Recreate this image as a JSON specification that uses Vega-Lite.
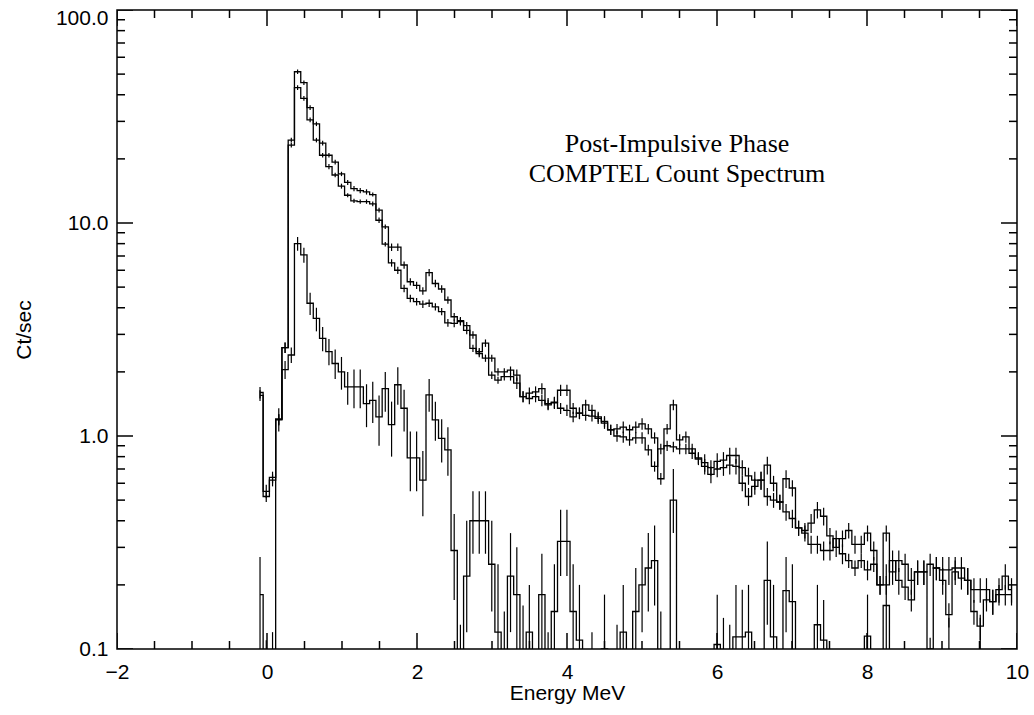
{
"$schema": "https://vega.github.io/schema/vega-lite/v6.json",
"width": 900, "height": 639,
"autosize": {"type": "none"},
"padding": {"left": 117, "top": 10, "right": 17, "bottom": 66},
"background": "white",
"config": {"view": {"stroke": "black", "strokeWidth": 1.5}, "axis": {"domain": false, "ticks": false, "tickSize": 0, "grid": false, "labelFlush": false, "labelOverlap": false}},
"title": {"text": ["Post-Impulsive Phase", "COMPTEL Count Spectrum"], "anchor": "middle", "frame": "group", "orient": "top", "offset": -201, "baseline": "alphabetic", "font": "Liberation Serif", "fontSize": 26, "fontWeight": "normal", "color": "black", "lineHeight": 30, "dx": 110},
"datasets": {
"xt": [
{"v":-2,"m":true},{"v":-1.5,"m":false},{"v":-1,"m":false},{"v":-0.5,"m":false},
{"v":0,"m":true},{"v":0.5,"m":false},{"v":1,"m":false},{"v":1.5,"m":false},
{"v":2,"m":true},{"v":2.5,"m":false},{"v":3,"m":false},{"v":3.5,"m":false},
{"v":4,"m":true},{"v":4.5,"m":false},{"v":5,"m":false},{"v":5.5,"m":false},
{"v":6,"m":true},{"v":6.5,"m":false},{"v":7,"m":false},{"v":7.5,"m":false},
{"v":8,"m":true},{"v":8.5,"m":false},{"v":9,"m":false},{"v":9.5,"m":false},
{"v":10,"m":true}
],
"yt": [
{"v":0.1,"m":true},{"v":0.2,"m":false},{"v":0.3,"m":false},{"v":0.4,"m":false},{"v":0.5,"m":false},{"v":0.6,"m":false},{"v":0.7,"m":false},{"v":0.8,"m":false},{"v":0.9,"m":false},
{"v":1,"m":true},{"v":2,"m":false},{"v":3,"m":false},{"v":4,"m":false},{"v":5,"m":false},{"v":6,"m":false},{"v":7,"m":false},{"v":8,"m":false},{"v":9,"m":false},
{"v":10,"m":true},{"v":20,"m":false},{"v":30,"m":false},{"v":40,"m":false},{"v":50,"m":false},{"v":60,"m":false},{"v":70,"m":false},{"v":80,"m":false},{"v":90,"m":false},
{"v":100,"m":true}
],
"d": [
{"s":"A","x":-0.093,"y":1.6,"lo":1.5,"hi":1.7},
{"s":"A","x":-0.010,"y":0.55,"lo":0.51,"hi":0.59},
{"s":"A","x":0.074,"y":0.62,"lo":0.58,"hi":0.66},
{"s":"A","x":0.157,"y":1.19,"lo":1.12,"hi":1.26},
{"s":"A","x":0.241,"y":2.6,"lo":2.45,"hi":2.75},
{"s":"A","x":0.324,"y":24.5,"lo":23.9,"hi":25.1},
{"s":"A","x":0.408,"y":51.3,"lo":50.0,"hi":52.6},
{"s":"A","x":0.492,"y":45.6,"lo":44.5,"hi":46.7},
{"s":"A","x":0.575,"y":34.8,"lo":33.9,"hi":35.7},
{"s":"A","x":0.659,"y":29.2,"lo":28.5,"hi":29.9},
{"s":"A","x":0.742,"y":23.7,"lo":23.1,"hi":24.3},
{"s":"A","x":0.826,"y":20.8,"lo":20.3,"hi":21.3},
{"s":"A","x":0.909,"y":19.3,"lo":18.8,"hi":19.8},
{"s":"A","x":0.993,"y":17.0,"lo":16.6,"hi":17.4},
{"s":"A","x":1.076,"y":15.5,"lo":15.1,"hi":15.9},
{"s":"A","x":1.160,"y":14.5,"lo":14.1,"hi":14.9},
{"s":"A","x":1.243,"y":14.2,"lo":13.8,"hi":14.6},
{"s":"A","x":1.327,"y":14.0,"lo":13.6,"hi":14.4},
{"s":"A","x":1.410,"y":13.6,"lo":13.3,"hi":13.9},
{"s":"A","x":1.494,"y":11.5,"lo":11.2,"hi":11.8},
{"s":"A","x":1.577,"y":9.6,"lo":9.36,"hi":9.84},
{"s":"A","x":1.661,"y":7.7,"lo":7.39,"hi":8.01},
{"s":"A","x":1.744,"y":7.7,"lo":7.39,"hi":8.01},
{"s":"A","x":1.828,"y":6.35,"lo":6.1,"hi":6.6},
{"s":"A","x":1.911,"y":5.3,"lo":5.09,"hi":5.51},
{"s":"A","x":1.995,"y":5.1,"lo":4.9,"hi":5.3},
{"s":"A","x":2.078,"y":4.8,"lo":4.61,"hi":4.99},
{"s":"A","x":2.162,"y":5.85,"lo":5.62,"hi":6.08},
{"s":"A","x":2.245,"y":5.2,"lo":4.99,"hi":5.41},
{"s":"A","x":2.329,"y":4.9,"lo":4.7,"hi":5.1},
{"s":"A","x":2.412,"y":4.35,"lo":4.18,"hi":4.52},
{"s":"A","x":2.496,"y":3.63,"lo":3.48,"hi":3.78},
{"s":"A","x":2.579,"y":3.48,"lo":3.34,"hi":3.62},
{"s":"A","x":2.663,"y":3.3,"lo":3.17,"hi":3.43},
{"s":"A","x":2.746,"y":2.98,"lo":2.86,"hi":3.1},
{"s":"A","x":2.830,"y":2.49,"lo":2.39,"hi":2.59},
{"s":"A","x":2.913,"y":2.73,"lo":2.62,"hi":2.84},
{"s":"A","x":2.997,"y":2.32,"lo":2.23,"hi":2.41},
{"s":"A","x":3.080,"y":2.0,"lo":1.92,"hi":2.08},
{"s":"A","x":3.164,"y":2.0,"lo":1.92,"hi":2.08},
{"s":"A","x":3.247,"y":2.04,"lo":1.96,"hi":2.12},
{"s":"A","x":3.331,"y":1.93,"lo":1.81,"hi":2.05},
{"s":"A","x":3.414,"y":1.53,"lo":1.44,"hi":1.62},
{"s":"A","x":3.498,"y":1.59,"lo":1.49,"hi":1.69},
{"s":"A","x":3.581,"y":1.61,"lo":1.51,"hi":1.71},
{"s":"A","x":3.665,"y":1.67,"lo":1.57,"hi":1.77},
{"s":"A","x":3.748,"y":1.42,"lo":1.33,"hi":1.51},
{"s":"A","x":3.832,"y":1.44,"lo":1.35,"hi":1.53},
{"s":"A","x":3.915,"y":1.64,"lo":1.54,"hi":1.74},
{"s":"A","x":3.999,"y":1.64,"lo":1.54,"hi":1.74},
{"s":"A","x":4.082,"y":1.35,"lo":1.27,"hi":1.43},
{"s":"A","x":4.166,"y":1.28,"lo":1.2,"hi":1.36},
{"s":"A","x":4.249,"y":1.40,"lo":1.32,"hi":1.48},
{"s":"A","x":4.333,"y":1.32,"lo":1.24,"hi":1.4},
{"s":"A","x":4.416,"y":1.23,"lo":1.16,"hi":1.3},
{"s":"A","x":4.500,"y":1.17,"lo":1.1,"hi":1.24},
{"s":"A","x":4.583,"y":1.07,"lo":1.01,"hi":1.13},
{"s":"A","x":4.667,"y":1.08,"lo":1.02,"hi":1.14},
{"s":"A","x":4.750,"y":1.10,"lo":1.03,"hi":1.17},
{"s":"A","x":4.834,"y":1.07,"lo":1.01,"hi":1.13},
{"s":"A","x":4.917,"y":1.10,"lo":1.03,"hi":1.17},
{"s":"A","x":5.001,"y":1.14,"lo":1.07,"hi":1.21},
{"s":"A","x":5.084,"y":1.08,"lo":1.02,"hi":1.14},
{"s":"A","x":5.168,"y":0.98,"lo":0.92,"hi":1.04},
{"s":"A","x":5.251,"y":0.63,"lo":0.59,"hi":0.67},
{"s":"A","x":5.335,"y":1.08,"lo":1.02,"hi":1.14},
{"s":"A","x":5.418,"y":1.40,"lo":1.32,"hi":1.48},
{"s":"A","x":5.502,"y":0.96,"lo":0.9,"hi":1.02},
{"s":"A","x":5.585,"y":0.99,"lo":0.93,"hi":1.05},
{"s":"A","x":5.669,"y":0.83,"lo":0.78,"hi":0.88},
{"s":"A","x":5.752,"y":0.79,"lo":0.74,"hi":0.84},
{"s":"A","x":5.836,"y":0.75,"lo":0.68,"hi":0.82},
{"s":"A","x":5.919,"y":0.71,"lo":0.65,"hi":0.77},
{"s":"A","x":6.003,"y":0.76,"lo":0.69,"hi":0.83},
{"s":"A","x":6.086,"y":0.77,"lo":0.7,"hi":0.84},
{"s":"A","x":6.170,"y":0.81,"lo":0.74,"hi":0.88},
{"s":"A","x":6.253,"y":0.81,"lo":0.74,"hi":0.88},
{"s":"A","x":6.337,"y":0.71,"lo":0.65,"hi":0.77},
{"s":"A","x":6.420,"y":0.65,"lo":0.59,"hi":0.71},
{"s":"A","x":6.504,"y":0.62,"lo":0.56,"hi":0.68},
{"s":"A","x":6.587,"y":0.62,"lo":0.56,"hi":0.68},
{"s":"A","x":6.671,"y":0.73,"lo":0.66,"hi":0.8},
{"s":"A","x":6.754,"y":0.60,"lo":0.55,"hi":0.65},
{"s":"A","x":6.838,"y":0.49,"lo":0.45,"hi":0.53},
{"s":"A","x":6.921,"y":0.63,"lo":0.57,"hi":0.69},
{"s":"A","x":7.005,"y":0.57,"lo":0.52,"hi":0.62},
{"s":"A","x":7.088,"y":0.37,"lo":0.34,"hi":0.4},
{"s":"A","x":7.172,"y":0.36,"lo":0.33,"hi":0.39},
{"s":"A","x":7.255,"y":0.39,"lo":0.35,"hi":0.43},
{"s":"A","x":7.339,"y":0.45,"lo":0.41,"hi":0.49},
{"s":"A","x":7.422,"y":0.42,"lo":0.38,"hi":0.46},
{"s":"A","x":7.506,"y":0.34,"lo":0.31,"hi":0.37},
{"s":"A","x":7.589,"y":0.30,"lo":0.27,"hi":0.33},
{"s":"A","x":7.673,"y":0.33,"lo":0.3,"hi":0.36},
{"s":"A","x":7.756,"y":0.36,"lo":0.33,"hi":0.39},
{"s":"A","x":7.840,"y":0.31,"lo":0.28,"hi":0.34},
{"s":"A","x":7.923,"y":0.31,"lo":0.28,"hi":0.34},
{"s":"A","x":8.007,"y":0.35,"lo":0.32,"hi":0.38},
{"s":"A","x":8.090,"y":0.29,"lo":0.26,"hi":0.32},
{"s":"A","x":8.174,"y":0.20,"lo":0.18,"hi":0.22},
{"s":"A","x":8.257,"y":0.35,"lo":0.32,"hi":0.38},
{"s":"A","x":8.341,"y":0.23,"lo":0.2,"hi":0.26},
{"s":"A","x":8.424,"y":0.26,"lo":0.23,"hi":0.29},
{"s":"A","x":8.508,"y":0.25,"lo":0.22,"hi":0.28},
{"s":"A","x":8.591,"y":0.21,"lo":0.18,"hi":0.24},
{"s":"A","x":8.675,"y":0.23,"lo":0.2,"hi":0.26},
{"s":"A","x":8.758,"y":0.23,"lo":0.2,"hi":0.26},
{"s":"A","x":8.842,"y":0.25,"lo":0.22,"hi":0.28},
{"s":"A","x":8.925,"y":0.24,"lo":0.21,"hi":0.27},
{"s":"A","x":9.009,"y":0.235,"lo":0.2,"hi":0.27},
{"s":"A","x":9.092,"y":0.235,"lo":0.2,"hi":0.27},
{"s":"A","x":9.176,"y":0.24,"lo":0.21,"hi":0.27},
{"s":"A","x":9.259,"y":0.24,"lo":0.21,"hi":0.27},
{"s":"A","x":9.343,"y":0.21,"lo":0.18,"hi":0.24},
{"s":"A","x":9.426,"y":0.19,"lo":0.165,"hi":0.215},
{"s":"A","x":9.510,"y":0.19,"lo":0.165,"hi":0.215},
{"s":"A","x":9.593,"y":0.19,"lo":0.165,"hi":0.215},
{"s":"A","x":9.677,"y":0.167,"lo":0.145,"hi":0.19},
{"s":"A","x":9.760,"y":0.19,"lo":0.165,"hi":0.215},
{"s":"A","x":9.844,"y":0.22,"lo":0.19,"hi":0.25},
{"s":"A","x":9.927,"y":0.19,"lo":0.165,"hi":0.215},
{"s":"B","x":-0.093,"y":1.55,"lo":1.46,"hi":1.64},
{"s":"B","x":-0.010,"y":0.52,"lo":0.49,"hi":0.55},
{"s":"B","x":0.074,"y":0.64,"lo":0.6,"hi":0.68},
{"s":"B","x":0.157,"y":1.2,"lo":1.13,"hi":1.27},
{"s":"B","x":0.241,"y":2.6,"lo":2.45,"hi":2.75},
{"s":"B","x":0.324,"y":23.2,"lo":22.6,"hi":23.8},
{"s":"B","x":0.408,"y":43.2,"lo":42.1,"hi":44.3},
{"s":"B","x":0.492,"y":38.5,"lo":37.5,"hi":39.5},
{"s":"B","x":0.575,"y":30.5,"lo":29.7,"hi":31.3},
{"s":"B","x":0.659,"y":24.5,"lo":23.9,"hi":25.1},
{"s":"B","x":0.742,"y":20.8,"lo":20.3,"hi":21.3},
{"s":"B","x":0.826,"y":18.4,"lo":17.9,"hi":18.9},
{"s":"B","x":0.909,"y":16.8,"lo":16.4,"hi":17.2},
{"s":"B","x":0.993,"y":14.9,"lo":14.5,"hi":15.3},
{"s":"B","x":1.076,"y":13.5,"lo":13.2,"hi":13.8},
{"s":"B","x":1.160,"y":12.7,"lo":12.4,"hi":13.0},
{"s":"B","x":1.243,"y":12.6,"lo":12.3,"hi":12.9},
{"s":"B","x":1.327,"y":12.6,"lo":12.3,"hi":12.9},
{"s":"B","x":1.410,"y":12.3,"lo":12.0,"hi":12.6},
{"s":"B","x":1.494,"y":10.3,"lo":10.0,"hi":10.6},
{"s":"B","x":1.577,"y":7.95,"lo":7.75,"hi":8.15},
{"s":"B","x":1.661,"y":6.5,"lo":6.24,"hi":6.76},
{"s":"B","x":1.744,"y":6.0,"lo":5.76,"hi":6.24},
{"s":"B","x":1.828,"y":4.93,"lo":4.73,"hi":5.13},
{"s":"B","x":1.911,"y":4.43,"lo":4.25,"hi":4.61},
{"s":"B","x":1.995,"y":4.27,"lo":4.1,"hi":4.44},
{"s":"B","x":2.078,"y":4.16,"lo":3.99,"hi":4.33},
{"s":"B","x":2.162,"y":4.2,"lo":4.03,"hi":4.37},
{"s":"B","x":2.245,"y":4.04,"lo":3.88,"hi":4.2},
{"s":"B","x":2.329,"y":3.84,"lo":3.69,"hi":3.99},
{"s":"B","x":2.412,"y":3.4,"lo":3.26,"hi":3.54},
{"s":"B","x":2.496,"y":3.38,"lo":3.24,"hi":3.52},
{"s":"B","x":2.579,"y":3.44,"lo":3.3,"hi":3.58},
{"s":"B","x":2.663,"y":3.13,"lo":3.0,"hi":3.26},
{"s":"B","x":2.746,"y":2.58,"lo":2.48,"hi":2.68},
{"s":"B","x":2.830,"y":2.44,"lo":2.34,"hi":2.54},
{"s":"B","x":2.913,"y":2.32,"lo":2.23,"hi":2.41},
{"s":"B","x":2.997,"y":1.93,"lo":1.85,"hi":2.01},
{"s":"B","x":3.080,"y":1.83,"lo":1.76,"hi":1.9},
{"s":"B","x":3.164,"y":1.9,"lo":1.82,"hi":1.98},
{"s":"B","x":3.247,"y":1.9,"lo":1.82,"hi":1.98},
{"s":"B","x":3.331,"y":1.77,"lo":1.66,"hi":1.88},
{"s":"B","x":3.414,"y":1.53,"lo":1.44,"hi":1.62},
{"s":"B","x":3.498,"y":1.5,"lo":1.41,"hi":1.59},
{"s":"B","x":3.581,"y":1.53,"lo":1.44,"hi":1.62},
{"s":"B","x":3.665,"y":1.47,"lo":1.38,"hi":1.56},
{"s":"B","x":3.748,"y":1.40,"lo":1.32,"hi":1.48},
{"s":"B","x":3.832,"y":1.43,"lo":1.34,"hi":1.52},
{"s":"B","x":3.915,"y":1.35,"lo":1.27,"hi":1.43},
{"s":"B","x":3.999,"y":1.32,"lo":1.24,"hi":1.4},
{"s":"B","x":4.082,"y":1.23,"lo":1.16,"hi":1.3},
{"s":"B","x":4.166,"y":1.28,"lo":1.2,"hi":1.36},
{"s":"B","x":4.249,"y":1.25,"lo":1.18,"hi":1.32},
{"s":"B","x":4.333,"y":1.24,"lo":1.17,"hi":1.31},
{"s":"B","x":4.416,"y":1.21,"lo":1.14,"hi":1.28},
{"s":"B","x":4.500,"y":1.15,"lo":1.08,"hi":1.22},
{"s":"B","x":4.583,"y":1.07,"lo":1.01,"hi":1.13},
{"s":"B","x":4.667,"y":1.0,"lo":0.94,"hi":1.06},
{"s":"B","x":4.750,"y":0.99,"lo":0.93,"hi":1.05},
{"s":"B","x":4.834,"y":0.96,"lo":0.9,"hi":1.02},
{"s":"B","x":4.917,"y":0.98,"lo":0.92,"hi":1.04},
{"s":"B","x":5.001,"y":0.98,"lo":0.92,"hi":1.04},
{"s":"B","x":5.084,"y":0.86,"lo":0.81,"hi":0.91},
{"s":"B","x":5.168,"y":0.72,"lo":0.68,"hi":0.76},
{"s":"B","x":5.251,"y":0.87,"lo":0.82,"hi":0.92},
{"s":"B","x":5.335,"y":0.9,"lo":0.85,"hi":0.95},
{"s":"B","x":5.418,"y":0.89,"lo":0.84,"hi":0.94},
{"s":"B","x":5.502,"y":0.87,"lo":0.82,"hi":0.92},
{"s":"B","x":5.585,"y":0.87,"lo":0.82,"hi":0.92},
{"s":"B","x":5.669,"y":0.87,"lo":0.82,"hi":0.92},
{"s":"B","x":5.752,"y":0.78,"lo":0.73,"hi":0.83},
{"s":"B","x":5.836,"y":0.72,"lo":0.66,"hi":0.78},
{"s":"B","x":5.919,"y":0.66,"lo":0.6,"hi":0.72},
{"s":"B","x":6.003,"y":0.70,"lo":0.64,"hi":0.76},
{"s":"B","x":6.086,"y":0.71,"lo":0.65,"hi":0.77},
{"s":"B","x":6.170,"y":0.73,"lo":0.66,"hi":0.8},
{"s":"B","x":6.253,"y":0.72,"lo":0.66,"hi":0.78},
{"s":"B","x":6.337,"y":0.60,"lo":0.55,"hi":0.65},
{"s":"B","x":6.420,"y":0.52,"lo":0.47,"hi":0.57},
{"s":"B","x":6.504,"y":0.58,"lo":0.53,"hi":0.63},
{"s":"B","x":6.587,"y":0.62,"lo":0.56,"hi":0.68},
{"s":"B","x":6.671,"y":0.52,"lo":0.47,"hi":0.57},
{"s":"B","x":6.754,"y":0.50,"lo":0.46,"hi":0.54},
{"s":"B","x":6.838,"y":0.49,"lo":0.45,"hi":0.53},
{"s":"B","x":6.921,"y":0.44,"lo":0.4,"hi":0.48},
{"s":"B","x":7.005,"y":0.41,"lo":0.37,"hi":0.45},
{"s":"B","x":7.088,"y":0.37,"lo":0.34,"hi":0.4},
{"s":"B","x":7.172,"y":0.35,"lo":0.32,"hi":0.38},
{"s":"B","x":7.255,"y":0.31,"lo":0.28,"hi":0.34},
{"s":"B","x":7.339,"y":0.31,"lo":0.28,"hi":0.34},
{"s":"B","x":7.422,"y":0.29,"lo":0.26,"hi":0.32},
{"s":"B","x":7.506,"y":0.29,"lo":0.26,"hi":0.32},
{"s":"B","x":7.589,"y":0.33,"lo":0.3,"hi":0.36},
{"s":"B","x":7.673,"y":0.28,"lo":0.25,"hi":0.31},
{"s":"B","x":7.756,"y":0.26,"lo":0.24,"hi":0.28},
{"s":"B","x":7.840,"y":0.24,"lo":0.22,"hi":0.26},
{"s":"B","x":7.923,"y":0.26,"lo":0.24,"hi":0.28},
{"s":"B","x":8.007,"y":0.235,"lo":0.21,"hi":0.26},
{"s":"B","x":8.090,"y":0.25,"lo":0.23,"hi":0.27},
{"s":"B","x":8.174,"y":0.20,"lo":0.18,"hi":0.22},
{"s":"B","x":8.257,"y":0.20,"lo":0.18,"hi":0.22},
{"s":"B","x":8.341,"y":0.26,"lo":0.23,"hi":0.29},
{"s":"B","x":8.424,"y":0.21,"lo":0.18,"hi":0.24},
{"s":"B","x":8.508,"y":0.195,"lo":0.17,"hi":0.22},
{"s":"B","x":8.591,"y":0.17,"lo":0.15,"hi":0.19},
{"s":"B","x":8.675,"y":0.23,"lo":0.2,"hi":0.26},
{"s":"B","x":8.758,"y":0.23,"lo":0.2,"hi":0.26},
{"s":"B","x":8.842,"y":0.10,"lo":0.087,"hi":0.113},
{"s":"B","x":8.925,"y":0.24,"lo":0.21,"hi":0.27},
{"s":"B","x":9.009,"y":0.21,"lo":0.18,"hi":0.24},
{"s":"B","x":9.092,"y":0.145,"lo":0.126,"hi":0.164},
{"s":"B","x":9.176,"y":0.23,"lo":0.2,"hi":0.26},
{"s":"B","x":9.259,"y":0.215,"lo":0.19,"hi":0.24},
{"s":"B","x":9.343,"y":0.21,"lo":0.18,"hi":0.24},
{"s":"B","x":9.426,"y":0.15,"lo":0.13,"hi":0.17},
{"s":"B","x":9.510,"y":0.128,"lo":0.11,"hi":0.145},
{"s":"B","x":9.593,"y":0.17,"lo":0.15,"hi":0.19},
{"s":"B","x":9.677,"y":0.167,"lo":0.145,"hi":0.19},
{"s":"B","x":9.760,"y":0.18,"lo":0.16,"hi":0.2},
{"s":"B","x":9.844,"y":0.18,"lo":0.16,"hi":0.2},
{"s":"B","x":9.927,"y":0.18,"lo":0.16,"hi":0.2},
{"s":"C","x":-0.093,"y":0.18,"lo":0.05,"hi":0.27},
{"s":"C","x":-0.010,"y":0.05,"lo":0.02,"hi":0.11},
{"s":"C","x":0.074,"y":0.05,"lo":0.02,"hi":0.12},
{"s":"C","x":0.157,"y":1.2,"lo":1.05,"hi":1.35},
{"s":"C","x":0.241,"y":2.05,"lo":1.85,"hi":2.25},
{"s":"C","x":0.324,"y":2.4,"lo":2.2,"hi":2.6},
{"s":"C","x":0.408,"y":8.0,"lo":7.4,"hi":8.6},
{"s":"C","x":0.492,"y":7.08,"lo":6.5,"hi":7.65},
{"s":"C","x":0.575,"y":4.2,"lo":3.7,"hi":4.7},
{"s":"C","x":0.659,"y":3.57,"lo":3.1,"hi":4.0},
{"s":"C","x":0.742,"y":2.87,"lo":2.5,"hi":3.25},
{"s":"C","x":0.826,"y":2.49,"lo":2.15,"hi":2.85},
{"s":"C","x":0.909,"y":2.19,"lo":1.85,"hi":2.55},
{"s":"C","x":0.993,"y":2.0,"lo":1.65,"hi":2.35},
{"s":"C","x":1.076,"y":1.70,"lo":1.4,"hi":2.0},
{"s":"C","x":1.160,"y":1.70,"lo":1.35,"hi":2.05},
{"s":"C","x":1.243,"y":1.70,"lo":1.35,"hi":2.05},
{"s":"C","x":1.327,"y":1.42,"lo":1.1,"hi":1.75},
{"s":"C","x":1.410,"y":1.47,"lo":1.15,"hi":1.8},
{"s":"C","x":1.494,"y":1.23,"lo":0.9,"hi":1.55},
{"s":"C","x":1.577,"y":1.67,"lo":1.3,"hi":2.0},
{"s":"C","x":1.661,"y":1.13,"lo":0.8,"hi":1.45},
{"s":"C","x":1.744,"y":1.74,"lo":1.4,"hi":2.1},
{"s":"C","x":1.828,"y":1.35,"lo":1.05,"hi":1.65},
{"s":"C","x":1.911,"y":0.79,"lo":0.55,"hi":1.05},
{"s":"C","x":1.995,"y":0.79,"lo":0.55,"hi":1.05},
{"s":"C","x":2.078,"y":0.62,"lo":0.42,"hi":0.85},
{"s":"C","x":2.162,"y":1.56,"lo":1.3,"hi":1.85},
{"s":"C","x":2.245,"y":1.19,"lo":0.95,"hi":1.45},
{"s":"C","x":2.329,"y":0.975,"lo":0.75,"hi":1.2},
{"s":"C","x":2.412,"y":0.86,"lo":0.65,"hi":1.1},
{"s":"C","x":2.496,"y":0.29,"lo":0.17,"hi":0.43},
{"s":"C","x":2.579,"y":0.05,"lo":0.02,"hi":0.13},
{"s":"C","x":2.663,"y":0.22,"lo":0.12,"hi":0.4},
{"s":"C","x":2.746,"y":0.40,"lo":0.28,"hi":0.55},
{"s":"C","x":2.830,"y":0.40,"lo":0.28,"hi":0.55},
{"s":"C","x":2.913,"y":0.40,"lo":0.28,"hi":0.55},
{"s":"C","x":2.997,"y":0.25,"lo":0.15,"hi":0.4},
{"s":"C","x":3.080,"y":0.12,"lo":0.05,"hi":0.25},
{"s":"C","x":3.164,"y":0.05,"lo":0.02,"hi":0.15},
{"s":"C","x":3.247,"y":0.22,"lo":0.12,"hi":0.35},
{"s":"C","x":3.331,"y":0.18,"lo":0.1,"hi":0.3},
{"s":"C","x":3.414,"y":0.05,"lo":0.02,"hi":0.16},
{"s":"C","x":3.498,"y":0.12,"lo":0.05,"hi":0.2},
{"s":"C","x":3.581,"y":0.05,"lo":0.02,"hi":0.1},
{"s":"C","x":3.665,"y":0.18,"lo":0.1,"hi":0.28},
{"s":"C","x":3.748,"y":0.05,"lo":0.02,"hi":0.12},
{"s":"C","x":3.832,"y":0.15,"lo":0.08,"hi":0.25},
{"s":"C","x":3.915,"y":0.32,"lo":0.22,"hi":0.45},
{"s":"C","x":3.999,"y":0.32,"lo":0.22,"hi":0.45},
{"s":"C","x":4.082,"y":0.15,"lo":0.08,"hi":0.25},
{"s":"C","x":4.166,"y":0.11,"lo":0.05,"hi":0.2},
{"s":"C","x":4.249,"y":0.05,"lo":0.02,"hi":0.1},
{"s":"C","x":4.333,"y":0.05,"lo":0.02,"hi":0.12},
{"s":"C","x":4.416,"y":0.05,"lo":0.02,"hi":0.1},
{"s":"C","x":4.500,"y":0.1,"lo":0.05,"hi":0.18},
{"s":"C","x":4.583,"y":0.05,"lo":0.02,"hi":0.1},
{"s":"C","x":4.667,"y":0.05,"lo":0.02,"hi":0.13},
{"s":"C","x":4.750,"y":0.12,"lo":0.06,"hi":0.2},
{"s":"C","x":4.834,"y":0.05,"lo":0.02,"hi":0.1},
{"s":"C","x":4.917,"y":0.15,"lo":0.08,"hi":0.24},
{"s":"C","x":5.001,"y":0.2,"lo":0.12,"hi":0.3},
{"s":"C","x":5.084,"y":0.24,"lo":0.15,"hi":0.35},
{"s":"C","x":5.168,"y":0.26,"lo":0.16,"hi":0.38},
{"s":"C","x":5.251,"y":0.08,"lo":0.03,"hi":0.15},
{"s":"C","x":5.335,"y":0.05,"lo":0.02,"hi":0.1},
{"s":"C","x":5.418,"y":0.5,"lo":0.35,"hi":0.7},
{"s":"C","x":5.502,"y":0.05,"lo":0.02,"hi":0.09},
{"s":"C","x":5.585,"y":0.05,"lo":0.02,"hi":0.09},
{"s":"C","x":5.669,"y":0.05,"lo":0.02,"hi":0.09},
{"s":"C","x":5.752,"y":0.05,"lo":0.02,"hi":0.09},
{"s":"C","x":5.836,"y":0.05,"lo":0.02,"hi":0.09},
{"s":"C","x":5.919,"y":0.05,"lo":0.02,"hi":0.09},
{"s":"C","x":6.003,"y":0.105,"lo":0.05,"hi":0.18},
{"s":"C","x":6.086,"y":0.05,"lo":0.02,"hi":0.14},
{"s":"C","x":6.170,"y":0.05,"lo":0.02,"hi":0.13},
{"s":"C","x":6.253,"y":0.114,"lo":0.05,"hi":0.2},
{"s":"C","x":6.337,"y":0.114,"lo":0.05,"hi":0.19},
{"s":"C","x":6.420,"y":0.12,"lo":0.05,"hi":0.2},
{"s":"C","x":6.504,"y":0.05,"lo":0.02,"hi":0.09},
{"s":"C","x":6.587,"y":0.05,"lo":0.02,"hi":0.09},
{"s":"C","x":6.671,"y":0.21,"lo":0.13,"hi":0.32},
{"s":"C","x":6.754,"y":0.114,"lo":0.05,"hi":0.2},
{"s":"C","x":6.838,"y":0.05,"lo":0.02,"hi":0.09},
{"s":"C","x":6.921,"y":0.188,"lo":0.12,"hi":0.27},
{"s":"C","x":7.005,"y":0.167,"lo":0.08,"hi":0.25},
{"s":"C","x":7.088,"y":0.05,"lo":0.02,"hi":0.09},
{"s":"C","x":7.172,"y":0.05,"lo":0.02,"hi":0.09},
{"s":"C","x":7.255,"y":0.05,"lo":0.02,"hi":0.09},
{"s":"C","x":7.339,"y":0.13,"lo":0.06,"hi":0.2},
{"s":"C","x":7.422,"y":0.11,"lo":0.05,"hi":0.17},
{"s":"C","x":7.506,"y":0.05,"lo":0.02,"hi":0.09},
{"s":"C","x":7.589,"y":0.05,"lo":0.02,"hi":0.09},
{"s":"C","x":7.673,"y":0.05,"lo":0.02,"hi":0.09},
{"s":"C","x":7.756,"y":0.05,"lo":0.02,"hi":0.09},
{"s":"C","x":7.840,"y":0.05,"lo":0.02,"hi":0.09},
{"s":"C","x":7.923,"y":0.05,"lo":0.02,"hi":0.09},
{"s":"C","x":8.007,"y":0.115,"lo":0.05,"hi":0.18},
{"s":"C","x":8.090,"y":0.05,"lo":0.02,"hi":0.09},
{"s":"C","x":8.174,"y":0.05,"lo":0.02,"hi":0.09},
{"s":"C","x":8.257,"y":0.16,"lo":0.09,"hi":0.25},
{"s":"C","x":8.341,"y":0.05,"lo":0.02,"hi":0.09},
{"s":"C","x":8.424,"y":0.05,"lo":0.02,"hi":0.09},
{"s":"C","x":8.508,"y":0.05,"lo":0.02,"hi":0.09},
{"s":"C","x":8.591,"y":0.05,"lo":0.02,"hi":0.09},
{"s":"C","x":8.675,"y":0.05,"lo":0.02,"hi":0.09},
{"s":"C","x":8.758,"y":0.05,"lo":0.02,"hi":0.09},
{"s":"C","x":8.842,"y":0.05,"lo":0.02,"hi":0.09},
{"s":"C","x":8.925,"y":0.05,"lo":0.02,"hi":0.09},
{"s":"C","x":9.009,"y":0.05,"lo":0.02,"hi":0.09},
{"s":"C","x":9.092,"y":0.05,"lo":0.02,"hi":0.14},
{"s":"C","x":9.176,"y":0.05,"lo":0.02,"hi":0.09},
{"s":"C","x":9.259,"y":0.05,"lo":0.02,"hi":0.09},
{"s":"C","x":9.343,"y":0.05,"lo":0.02,"hi":0.09},
{"s":"C","x":9.426,"y":0.05,"lo":0.02,"hi":0.09},
{"s":"C","x":9.510,"y":0.05,"lo":0.02,"hi":0.14},
{"s":"C","x":9.593,"y":0.05,"lo":0.02,"hi":0.09},
{"s":"C","x":9.677,"y":0.05,"lo":0.02,"hi":0.09},
{"s":"C","x":9.760,"y":0.05,"lo":0.02,"hi":0.09},
{"s":"C","x":9.844,"y":0.05,"lo":0.02,"hi":0.09},
{"s":"C","x":9.927,"y":0.05,"lo":0.02,"hi":0.09}
]},
"layer": [
{
"data": {"name": "d"},
"mark": {"type": "line", "interpolate": "step", "clip": true, "color": "black", "strokeWidth": 1.3},
"encoding": {
"x": {"field": "x", "type": "quantitative", "scale": {"domain": [-2, 10], "nice": false, "zero": false},
"axis": {"orient": "bottom", "values": [-2, 0, 2, 4, 6, 8, 10], "format": "d",
"labelFont": "Liberation Sans", "labelFontSize": 21, "labelColor": "black", "labelPadding": 12,
"title": "Energy MeV", "titleFont": "Liberation Sans", "titleFontSize": 21, "titleFontWeight": "normal", "titleColor": "black", "titlePadding": 0}},
"y": {"field": "y", "type": "quantitative", "scale": {"type": "log", "domain": [0.1, 100], "nice": false},
"axis": {"orient": "left", "values": [0.1, 1, 10, 100], "format": ".1f",
"labelOffset": {"condition": {"test": "datum.value == 100", "value": 8}, "value": 0},
"labelFont": "Liberation Sans", "labelFontSize": 21, "labelColor": "black", "labelPadding": 9,
"title": "Ct/sec", "titleFont": "Liberation Sans", "titleFontSize": 21, "titleFontWeight": "normal", "titleColor": "black", "titlePadding": 21}},
"detail": {"field": "s", "type": "nominal"}
}
},
{
"data": {"name": "d"},
"mark": {"type": "rule", "clip": true, "color": "black", "strokeWidth": 1.2},
"encoding": {
"x": {"field": "x", "type": "quantitative", "scale": {"domain": [-2, 10], "nice": false, "zero": false}, "axis": null},
"y": {"field": "lo", "type": "quantitative", "scale": {"type": "log", "domain": [0.1, 100], "nice": false}, "axis": null},
"y2": {"field": "hi"}
}
},
{
"data": {"name": "xt"},
"mark": {"type": "tick", "orient": "vertical", "clip": true, "color": "black", "opacity": 1, "thickness": 1.5},
"encoding": {
"x": {"field": "v", "type": "quantitative", "scale": {"domain": [-2, 10], "nice": false, "zero": false}, "axis": null},
"y": {"datum": 0.1, "type": "quantitative", "scale": {"type": "log", "domain": [0.1, 100], "nice": false}, "axis": null},
"size": {"condition": {"test": "datum.m", "value": 32}, "value": 16}
}
},
{
"data": {"name": "xt"},
"mark": {"type": "tick", "orient": "vertical", "clip": true, "color": "black", "opacity": 1, "thickness": 1.5},
"encoding": {
"x": {"field": "v", "type": "quantitative", "scale": {"domain": [-2, 10], "nice": false, "zero": false}, "axis": null},
"y": {"datum": 100, "type": "quantitative", "scale": {"type": "log", "domain": [0.1, 100], "nice": false}, "axis": null},
"size": {"condition": {"test": "datum.m", "value": 32}, "value": 16}
}
},
{
"data": {"name": "yt"},
"mark": {"type": "tick", "orient": "horizontal", "clip": true, "color": "black", "opacity": 1, "thickness": 1.5},
"encoding": {
"x": {"datum": -2, "type": "quantitative", "scale": {"domain": [-2, 10], "nice": false, "zero": false}, "axis": null},
"y": {"field": "v", "type": "quantitative", "scale": {"type": "log", "domain": [0.1, 100], "nice": false}, "axis": null},
"size": {"condition": {"test": "datum.m", "value": 32}, "value": 16}
}
},
{
"data": {"name": "yt"},
"mark": {"type": "tick", "orient": "horizontal", "clip": true, "color": "black", "opacity": 1, "thickness": 1.5},
"encoding": {
"x": {"datum": 10, "type": "quantitative", "scale": {"domain": [-2, 10], "nice": false, "zero": false}, "axis": null},
"y": {"field": "v", "type": "quantitative", "scale": {"type": "log", "domain": [0.1, 100], "nice": false}, "axis": null},
"size": {"condition": {"test": "datum.m", "value": 32}, "value": 16}
}
}
],
"resolve": {"axis": {"x": "independent", "y": "independent"}}
}
